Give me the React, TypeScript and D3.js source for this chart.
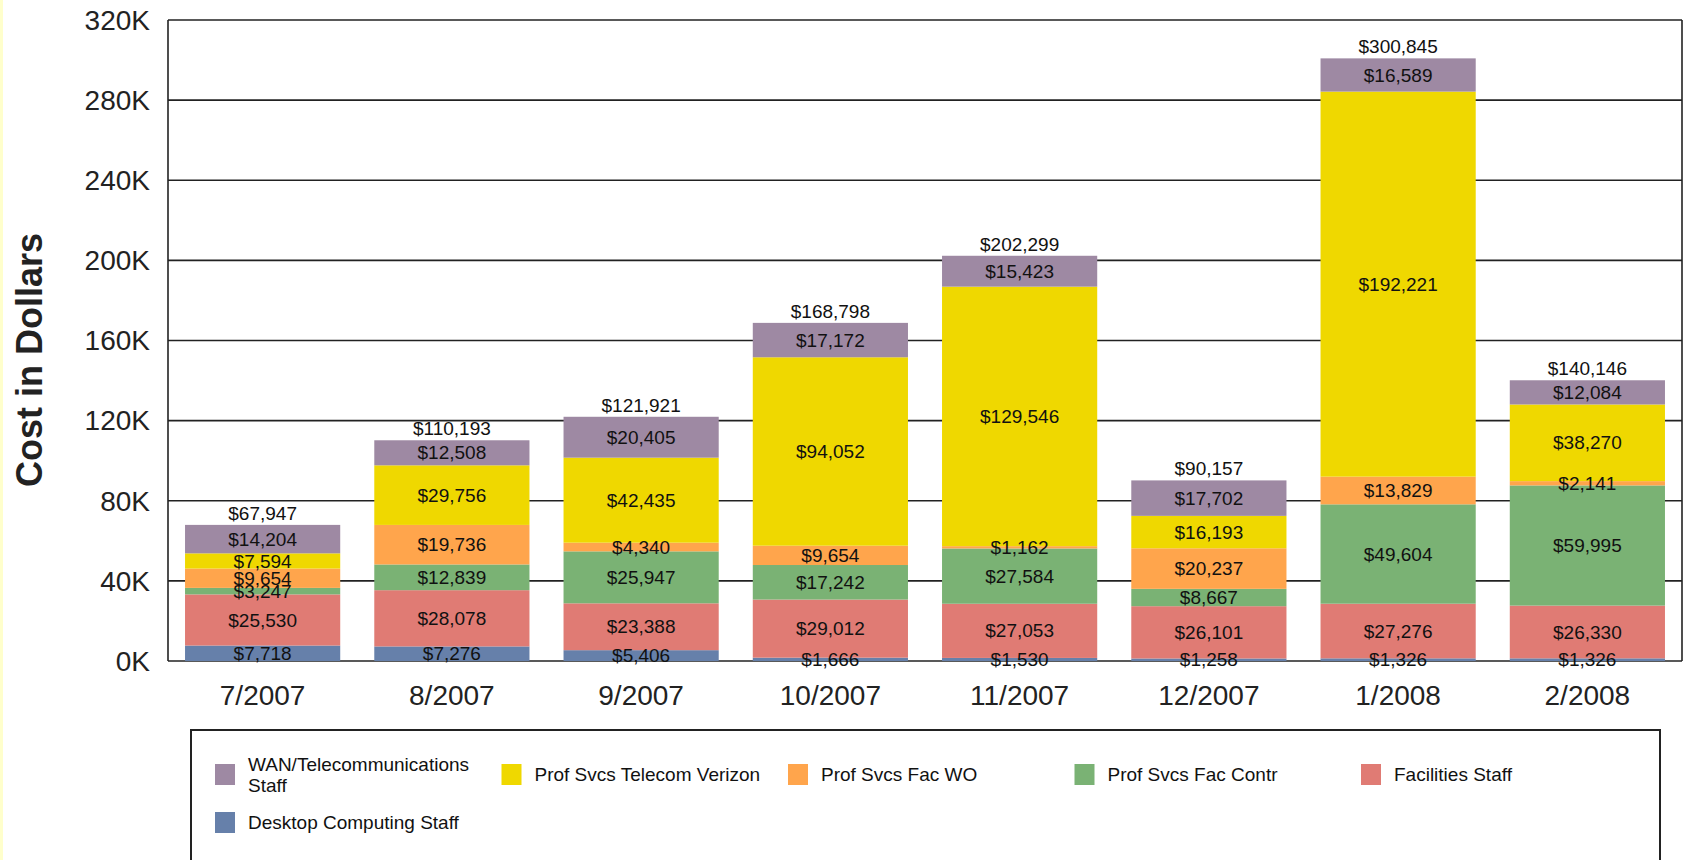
import { format, scaleBand, scaleLinear, stack } from 'd3'

const months = ['7/2007', '8/2007', '9/2007', '10/2007', '11/2007', '12/2007', '1/2008', '2/2008']

// stacked bottom -> top
const desktopStaff = [7718, 7276, 5406, 1666, 1530, 1258, 1326, 1326]
const facilitiesStaff = [25530, 28078, 23388, 29012, 27053, 26101, 27276, 26330]
const facContr = [3247, 12839, 25947, 17242, 27584, 8667, 49604, 59995]
const facWO = [9654, 19736, 4340, 9654, 1162, 20237, 13829, 2141]
const telecomVerizon = [7594, 29756, 42435, 94052, 129546, 16193, 192221, 38270]
const wanStaff = [14204, 12508, 20405, 17172, 15423, 17702, 16589, 12084]

const totals = [67947, 110193, 121921, 168798, 202299, 90157, 300845, 140146]

const yTicks = [0, 40000, 80000, 120000, 160000, 200000, 240000, 280000, 320000]

const seriesNames = [
  'Desktop Computing Staff',
  'Facilities Staff',
  'Prof Svcs Fac Contr',
  'Prof Svcs Fac WO',
  'Prof Svcs Telecom Verizon',
  'WAN/Telecommunications Staff',
]
const seriesValues = [desktopStaff, facilitiesStaff, facContr, facWO, telecomVerizon, wanStaff]
const seriesColors = ['#6680aa', '#e07b74', '#7ab274', '#ffa54c', '#efd800', '#9e89a3']

// legend reads top of the stack first
const legendOrder = [5, 4, 3, 2, 1, 0]

const width = 1684
const height = 860
const plot = { left: 168, right: 1682, top: 20, bottom: 661 }
const font = '"Liberation Sans", Arial, sans-serif'
const money = format('$,')

export default function App() {
  const x = scaleBand<string>()
    .domain(months)
    .range([plot.left, plot.right])
    .paddingInner(0.18)
    .paddingOuter(0.09)

  const y = scaleLinear().domain([0, 320000]).range([plot.bottom, plot.top])

  const rows = months.map((month, i) => {
    const row: Record<string, number | string> = { month }
    seriesNames.forEach((name, s) => {
      row[name] = seriesValues[s][i]
    })
    return row
  })
  const layers = stack<Record<string, number | string>>().keys(seriesNames)(rows)

  return (
    <svg
      width={width}
      height={height}
      style={{ position: 'absolute', left: 0, top: 0, background: '#fff' }}
      fontFamily={font}
    >
      <rect x={0} y={0} width={3} height={height} fill="#ffffcc" />

      {/* grid */}
      {yTicks.map((tick) => (
        <g key={tick}>
          <line x1={plot.left} x2={plot.right} y1={y(tick)} y2={y(tick)} stroke="#222" strokeWidth={1.6} />
          <text x={150} y={y(tick)} dy="0.35em" textAnchor="end" fontSize={28} fill="#222">
            {`${tick / 1000}K`}
          </text>
        </g>
      ))}
      <line x1={plot.left} x2={plot.left} y1={plot.top} y2={plot.bottom} stroke="#222" strokeWidth={1.6} />
      <line x1={plot.right} x2={plot.right} y1={plot.top} y2={plot.bottom} stroke="#222" strokeWidth={1.6} />

      {/* bars */}
      {layers.map((layer, s) => (
        <g key={layer.key} fill={seriesColors[s]}>
          {layer.map((d, i) => (
            <rect
              key={months[i]}
              x={x(months[i])}
              y={y(d[1])}
              width={x.bandwidth()}
              height={y(d[0]) - y(d[1])}
            />
          ))}
        </g>
      ))}

      {/* segment labels */}
      {layers.map((layer) => (
        <g key={`lbl-${layer.key}`} fontSize={19} fill="#111" textAnchor="middle">
          {layer.map((d, i) => (
            <text key={months[i]} x={(x(months[i]) ?? 0) + x.bandwidth() / 2} y={y((d[0] + d[1]) / 2)} dy="0.35em">
              {money(d[1] - d[0])}
            </text>
          ))}
        </g>
      ))}

      {/* totals */}
      {totals.map((total, i) => (
        <text
          key={months[i]}
          x={(x(months[i]) ?? 0) + x.bandwidth() / 2}
          y={y(layers[layers.length - 1][i][1]) - 5}
          textAnchor="middle"
          fontSize={19}
          fill="#111"
        >
          {money(total)}
        </text>
      ))}

      {/* x axis labels */}
      {months.map((month) => (
        <text
          key={month}
          x={(x(month) ?? 0) + x.bandwidth() / 2}
          y={705}
          textAnchor="middle"
          fontSize={28}
          fill="#222"
        >
          {month}
        </text>
      ))}

      <text
        transform="translate(42, 360) rotate(-90)"
        textAnchor="middle"
        fontSize={36}
        fontWeight="bold"
        fill="#222"
      >
        Cost in Dollars
      </text>

      {/* legend */}
      <rect x={191} y={730} width={1469} height={200} fill="none" stroke="#222" strokeWidth={2} />
      {legendOrder.map((s, k) => {
        const col = k % 5
        const row = Math.floor(k / 5)
        const sx = 215 + col * 286.5
        const cy = 774.5 + row * 48
        const name = seriesNames[s]
        const twoLine = name === 'WAN/Telecommunications Staff'
        return (
          <g key={name}>
            <rect x={sx} y={cy - 10.5} width={20} height={21} fill={seriesColors[s]} />
            {twoLine ? (
              <text x={sx + 33} y={cy} fontSize={19} fill="#111">
                <tspan x={sx + 33} dy="-0.2em">WAN/Telecommunications</tspan>
                <tspan x={sx + 33} dy="1.1em">Staff</tspan>
              </text>
            ) : (
              <text x={sx + 33} y={cy} dy="0.35em" fontSize={19} fill="#111">
                {name}
              </text>
            )}
          </g>
        )
      })}
    </svg>
  )
}
